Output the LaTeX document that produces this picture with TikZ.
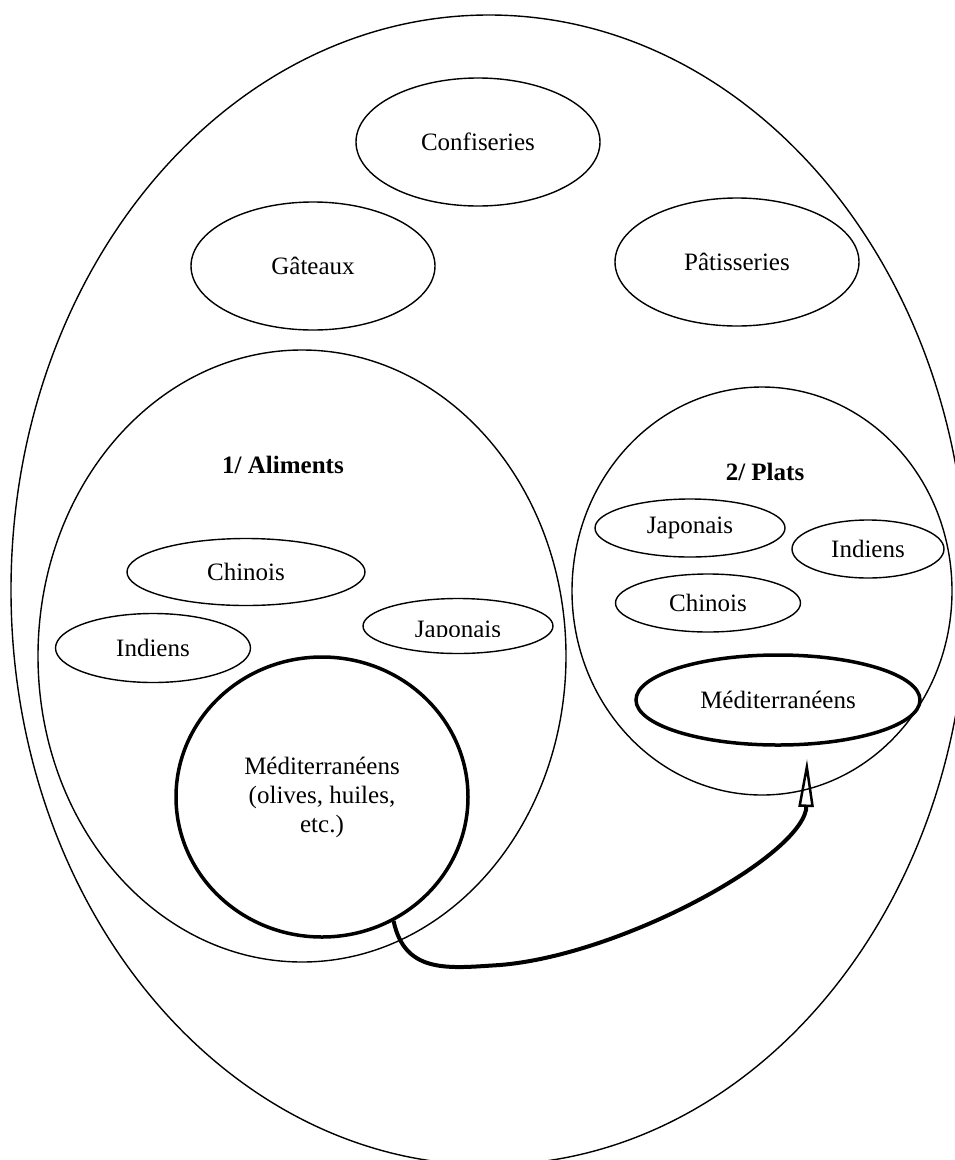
\documentclass[tikz,border=0pt]{standalone}
\usepackage{fontspec}
\setmainfont{Liberation Serif}
\usetikzlibrary{shapes.geometric,arrows.meta}
\begin{document}
\begin{tikzpicture}[x=1pt,y=-1pt,
  oval/.style={ellipse, draw, line width=1.4pt, inner sep=0pt,
    font=\fontsize{25}{29}\selectfont, align=center},
  boldoval/.style={oval, line width=3.5pt},
  lbl/.style={font=\fontsize{25}{29}\selectfont\bfseries, inner sep=0pt},
  txt/.style={font=\fontsize{25}{29}\selectfont, inner sep=0pt},
  arr/.style={line width=4pt, -{Triangle[open,length=48pt,width=15pt,line width=2.5pt]}}]
\clip (0,0) rectangle (955,1160);
\fill[white] (0,0) rectangle (955,1160);
% outer ellipse
\node[oval, minimum width=956pt, minimum height=1150pt] (big) at (489,590) {};
% top group
\node[oval, minimum width=244pt, minimum height=128pt] (conf) at (478,142) {Confiseries};
\node[oval, minimum width=244pt, minimum height=128pt] (gat) at (313,266) {Gâteaux};
\node[oval, minimum width=244pt, minimum height=128pt] (pat) at (737,262) {Pâtisseries};
% Aliments
\node[oval, minimum width=528pt, minimum height=612pt] (alim) at (302,656) {};
\node[lbl] (lblA) at (283,465) {1/ Aliments};
\node[oval, minimum width=238pt, minimum height=67pt] (chA) at (246,572) {Chinois};
\node[oval, minimum width=195pt, minimum height=69pt] (inA) at (153,648) {Indiens};
\node[oval, minimum width=190pt, minimum height=55pt] (jaA) at (458,626) {};
\begin{scope}
  \clip (360,590) rectangle (560,636.5);
  \node[txt, anchor=base] (jaAtxt) at (458,637) {Japonais};
\end{scope}
\node[boldoval, minimum width=292pt, minimum height=280pt] (medA) at (322,797)
  {Méditerranéens\\(olives, huiles,\\etc.)};
% Plats
\node[oval, minimum width=380pt, minimum height=408pt] (plats) at (762,591) {};
\node[lbl] (lblP) at (765,472) {2/ Plats};
\node[oval, minimum width=190pt, minimum height=58pt] (jaP) at (690,528) {Japonais};
\node[oval, minimum width=152pt, minimum height=58pt] (inP) at (868,549) {Indiens};
\node[oval, minimum width=185pt, minimum height=58pt] (chP) at (708,603) {Chinois};
\node[boldoval, minimum width=284pt, minimum height=90pt] (medP) at (778,700) {Méditerranéens};
% arrow
\coordinate (tip) at (807,759);
\draw[arr] (medA.-60) .. controls (405,975) and (450,968) .. (500,965)
  .. controls (620,955) and (795,860) .. (806,810) -- (tip);
\end{tikzpicture}
\end{document}
